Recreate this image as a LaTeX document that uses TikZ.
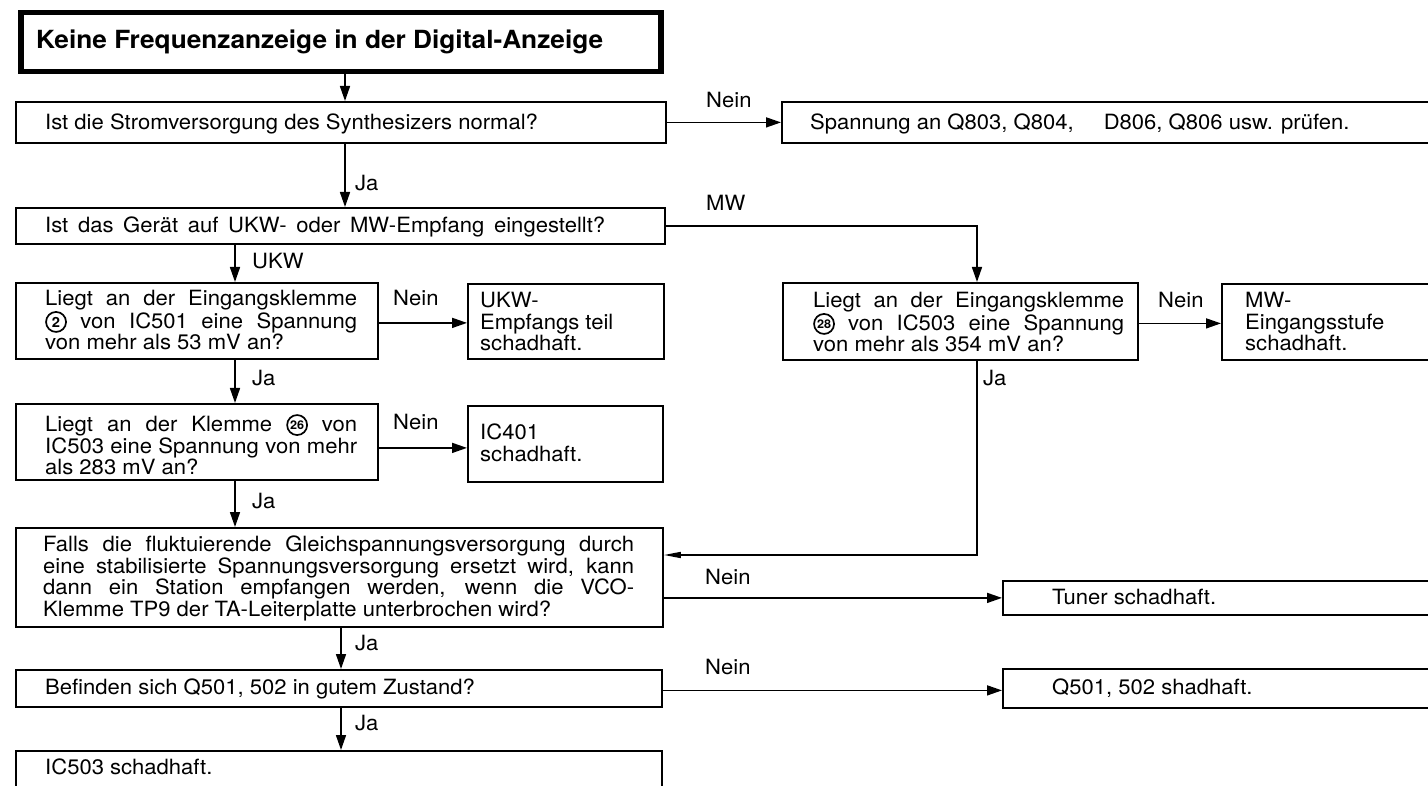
\documentclass[tikz,border=0pt]{standalone}
\usepackage{fontspec}
\usepackage{graphicx}
\setmainfont{TeX Gyre Heros}[FakeStretch=1.05]
\usetikzlibrary{arrows.meta}

% circled terminal number, set inline on the text baseline
\newcommand\circnum[2]{\tikz[baseline=-6.5pt]{%
    \draw[line width=1.7pt] (0pt,0pt) circle[radius=10pt];
    \node[anchor=center, inner sep=0pt, align=center,
      font=\bfseries\fontsize{#2}{#2}\selectfont] at (0pt,0pt) {#1};}}
% one justified line of a given width (squeezed if it is too long)
\newcommand\jline[2]{\sbox0{#2}\ifdim\wd0>#1\relax
  \resizebox{#1}{\height}{\usebox0}\else\makebox[#1][s]{#2}\fi}

\begin{document}
\begin{tikzpicture}[x=1pt,y=-1pt,
  box/.style={draw, line width=1.8pt, inner sep=0pt, anchor=north west},
  txt/.style={inner sep=0pt, anchor=base west, font=\fontsize{21}{21.5}\selectfont},
  mtxt/.style={inner sep=0pt, anchor=north west, align=left, font=\fontsize{21}{21.5}\selectfont},
  conn/.style={line width=1.6pt},
  arr/.style={conn, -{Triangle[length=15pt,width=10pt]}},
  backarr/.style={conn, -{Triangle[length=17pt,width=6pt]}},
]
\path[use as bounding box] (0,0) rectangle (1428,786);
\clip (0,0) rectangle (1428,786);

% column positions of the vertical connectors
\coordinate (cA) at (345,0);
\coordinate (cB) at (235,0);
\coordinate (cC) at (341,0);
\coordinate (cD) at (977,0);
\coordinate (yret) at (0,555);

% ---- boxes ----
\node[box, line width=5.5pt, minimum width=640pt, minimum height=59pt] (title) at (18,10) {};
\node[box, minimum width=650pt, minimum height=41pt] (q1) at (15,101) {};
\node[box, minimum width=670pt, minimum height=41pt] (s1) at (781,101) {};
\node[box, minimum width=649pt, minimum height=36pt] (q2) at (15,207) {};
\node[box, minimum width=362pt, minimum height=76pt] (q3) at (15,282) {};
\node[box, minimum width=196pt, minimum height=75pt] (r3) at (467,283) {};
\node[box, minimum width=362pt, minimum height=76pt] (q4) at (15,403) {};
\node[box, minimum width=195pt, minimum height=76pt] (r4) at (467,405) {};
\node[box, minimum width=355pt, minimum height=77pt] (q5) at (782,282) {};
\node[box, minimum width=230pt, minimum height=76pt] (r5) at (1221,283) {};
\node[box, minimum width=647pt, minimum height=99pt] (q6) at (15,527) {};
\node[box, minimum width=450pt, minimum height=34pt] (tu) at (1002,580) {};
\node[box, minimum width=646pt, minimum height=37pt] (q7) at (15,669) {};
\node[box, minimum width=450pt, minimum height=39pt] (r7) at (1002,668) {};
\node[box, minimum width=646pt, minimum height=60pt] (q8) at (15,750) {};

% ---- texts ----
\node[txt, font=\bfseries\fontsize{25}{26}\selectfont] (titleT) at (36,48.5)
  {Keine Frequenzanzeige in der Digital-Anzeige};
\node[txt] (q1T) at (45,129.5) {Ist die Stromversorgung des Synthesizers normal?};
\node[txt] (s1T) at (810,129.5) {Spannung an Q803, Q804,\hspace{30pt}D806, Q806 usw. prüfen.};
\node[txt] (q2T) at (45,232.5) {\jline{560pt}{Ist das Gerät auf UKW- oder MW-Empfang eingestellt?}};
\node[mtxt] (q3T) at (45,290) {%
  \jline{312pt}{Liegt an der Eingangsklemme}\\
  \jline{312pt}{\circnum{2}{14} von IC501 eine Spannung}\\
  von mehr als 53 mV an?};
\node[mtxt] (r3T) at (480,292) {UKW-\\Empfangs teil\\schadhaft.};
\node[mtxt] (q4T) at (45,414) {%
  \jline{312pt}{Liegt an der Klemme \circnum{26}{12} von}\\
  \jline{312pt}{IC503 eine Spannung von mehr}\\
  als 283 mV an?};
\node[mtxt] (r4T) at (480,424) {IC401\\schadhaft.};
\node[mtxt] (q5T) at (813,292) {%
  \jline{311pt}{Liegt an der Eingangsklemme}\\
  \jline{311pt}{\circnum{28}{12} von IC503 eine Spannung}\\
  von mehr als 354 mV an?};
\node[mtxt] (r5T) at (1245,292) {MW-\\Eingangsstufe\\schadhaft.};
\node[mtxt] (q6T) at (43,536) {%
  \jline{591pt}{Falls die fluktuierende Gleichspannungsversorgung durch}\\
  \jline{591pt}{eine stabilisierte Spannungsversorgung ersetzt wird, kann}\\
  \jline{591pt}{dann ein Station empfangen werden, wenn die VCO-}\\
  Klemme TP9 der TA-Leiterplatte unterbrochen wird?};
\node[txt] (tuT) at (1052,604.5) {Tuner schadhaft.};
\node[txt] (q7T) at (45,694.5) {Befinden sich Q501, 502 in gutem Zustand?};
\node[txt] (r7T) at (1052,694.5) {Q501, 502 shadhaft.};
\node[txt] (q8T) at (45,774.5) {IC503 schadhaft.};

% ---- connector labels ----
\node[txt] (n1) at (706,107.5) {Nein};
\node[txt] (j1) at (355,190.5) {Ja};
\node[txt] (mw) at (706,210.5) {MW};
\node[txt] (ukw) at (252,268.5) {UKW};
\node[txt] (n3) at (393,305.5) {Nein};
\node[txt] (j3) at (252,385.5) {Ja};
\node[txt] (n4) at (393,429.5) {Nein};
\node[txt] (j4) at (252,508.5) {Ja};
\node[txt] (n5) at (1158,307.5) {Nein};
\node[txt] (j5) at (983,385.5) {Ja};
\node[txt] (n6) at (705,584.5) {Nein};
\node[txt] (j6) at (355,650.5) {Ja};
\node[txt] (n7) at (705,674.5) {Nein};
\node[txt] (j7) at (355,730.5) {Ja};

% ---- connectors ----
\draw[arr] (cA |- title.south) -- (cA |- q1.north);
\draw[arr] (q1.east) -- (q1.east -| s1.west);
\draw[arr] (cA |- q1.south) -- (cA |- q2.north);
\draw[arr] (q2.east) -- (cD |- q2.east) -- (cD |- q5.north);
\draw[arr] (cB |- q2.south) -- (cB |- q3.north);
\draw[arr] ([yshift=-2pt]q3.east) -- ([yshift=-2pt]q3.east -| r3.west);
\draw[arr] (cB |- q3.south) -- (cB |- q4.north);
\draw[arr] ([yshift=-6pt]q4.east) -- ([yshift=-6pt]q4.east -| r4.west);
\draw[arr] (cB |- q4.south) -- (cB |- q6.north);
\draw[arr] ([yshift=-2pt]q5.east) -- ([yshift=-2pt]q5.east -| r5.west);
\draw[backarr] (cD |- q5.south) -- (cD |- yret) -- (q6.east |- yret);
\draw[arr] (q6.east |- tu.west) -- (tu.west);
\draw[arr] (cC |- q6.south) -- (cC |- q7.north);
\draw[arr] ([yshift=-2pt]q7.east) -- ([yshift=-2pt]q7.east -| r7.west);
\draw[arr] (cC |- q7.south) -- (cC |- q8.north);
\end{tikzpicture}
\end{document}
